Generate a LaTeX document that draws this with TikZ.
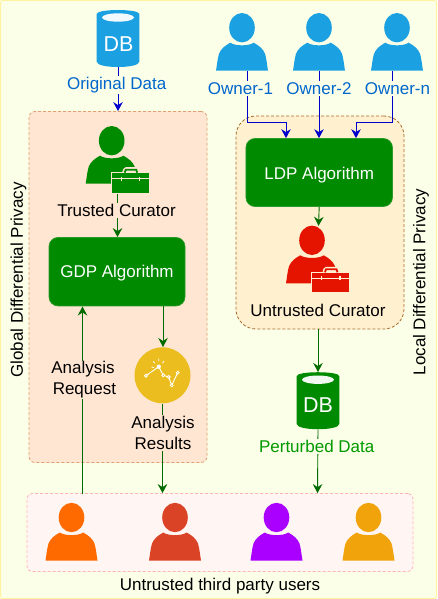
\documentclass[tikz,border=0pt]{standalone}
\usepackage{fontspec}
\setmainfont{Liberation Sans}
\usetikzlibrary{arrows.meta,calc}
\definecolor{pagebg}{HTML}{FCFFE8}
\definecolor{pageedge}{HTML}{FFF3A0}
\definecolor{gdpfill}{HTML}{FFE6D2}
\definecolor{gdpedge}{HTML}{DDA070}
\definecolor{ldpfill}{HTML}{FFF0D0}
\definecolor{ldpedge}{HTML}{A86C2C}
\definecolor{algo}{HTML}{008A00}
\definecolor{algoedge}{HTML}{2D9A2D}
\definecolor{skyb}{HTML}{1BA1E2}
\definecolor{linkblue}{HTML}{0000CC}
\definecolor{labelblue}{HTML}{0066CC}
\definecolor{labelgreen}{HTML}{009900}
\definecolor{linkgreen}{HTML}{006B00}
\definecolor{redc}{HTML}{E51400}
\definecolor{goldc}{HTML}{EBBD1F}
\definecolor{usersfill}{HTML}{FFF6F4}
\definecolor{usersedge}{HTML}{FFB3B3}
\definecolor{userA}{HTML}{FF6A00}
\definecolor{userB}{HTML}{DB4327}
\definecolor{userC}{HTML}{AA00FF}
\definecolor{userD}{HTML}{F0A30A}
\tikzset{
  x=1pt,y=-1pt,
  txt/.style={font=\fontsize{17}{21}\selectfont,align=center,inner sep=1pt},
  zonedash/.style={dash pattern=on 3pt off 2pt,line width=0.8pt},
  algobox/.style={draw=algoedge,fill=algo,rounded corners=9pt,line width=0.7pt,text=white,font=\fontsize{17}{20}\selectfont},
  conblue/.style={draw=linkblue,line width=0.9pt,-{Stealth[length=9pt,width=9.5pt,inset=3pt]}},
  congreen/.style={draw=linkgreen,line width=0.9pt,-{Stealth[length=9pt,width=9.5pt,inset=3pt]}},
  personbox/.style={minimum width=52pt,minimum height=43pt,inner sep=0pt,outer sep=0pt},
  pics/person/.style={code={
    \fill[#1] (0,-43) ellipse [x radius=12.8,y radius=14.7];
    \fill[#1] (-26,0) .. controls (-25,-6) and (-24.5,-12) .. (-23,-17)
      .. controls (-21,-22) and (-17,-25) .. (-11.7,-28)
      .. controls (-7,-24.5) and (7,-24.5) .. (11.7,-28)
      .. controls (17,-25) and (21,-22) .. (23,-17)
      .. controls (24.5,-12) and (25,-6) .. (26,0) -- cycle;
  }},
  pics/curator/.style 2 args={code={
    \pic at (0,0) {person=#1};
    \draw[#2,line width=2pt,fill=#1] (0,-10.7) -- (37.3,-10.7) -- (37.3,9) -- (0,9) -- cycle;
    \draw[#2,line width=5pt,line join=round] (13,-11) -- (14,-14) -- (24.5,-14) -- (25.5,-11);
    \draw[#1,line width=1.8pt] (13,-11) -- (14,-14) -- (24.5,-14) -- (25.5,-11);
    \fill[#1] (0,-10.7) rectangle (37.3,9);
    \draw[#2,line width=0.9pt] (0,-5) -- (37.3,-5);
    \draw[#2,line width=1.2pt] (9.5,-7) -- (9.5,-3) (28,-7) -- (28,-3);
  }},
  pics/dbcyl/.style={code={
    \fill[#1] (-21.3,4) .. controls (-21.3,-1.3) and (21.3,-1.3) .. (21.3,4) -- (21.3,51.7) .. controls (21.3,58.8) and (-21.3,58.8) .. (-21.3,51.7) -- cycle;
    \fill[white,opacity=0.95] (0,7.5) ellipse [x radius=16,y radius=4.2];
  }}
}
\begin{document}
\begin{tikzpicture}
\useasboundingbox (0,0) rectangle (437,599);
\draw[fill=pagebg,draw=pageedge,line width=1pt,rounded corners=2pt] (0.5,0.5) rectangle (436.5,598.5);

% containers
\node[draw=gdpedge,fill=gdpfill,zonedash,rounded corners=6pt,minimum width=178pt,minimum height=351pt,inner sep=0pt] (gdpzone) at (118,287) {};
\node[draw=ldpedge,fill=ldpfill,zonedash,rounded corners=20pt,minimum width=168pt,minimum height=213pt,inner sep=0pt] (ldpzone) at (320,222.5) {};
\node[draw=usersedge,fill=usersfill,zonedash,rounded corners=5pt,minimum width=386pt,minimum height=78pt,inner sep=0pt] (userzone) at (220,532.5) {};

% named anchors of icons
\node[personbox] (own1) at (242,49.5) {};
\node[personbox] (own2) at (319,49.5) {};
\node[personbox] (ownn) at (397,49.5) {};
\node[minimum width=42.6pt,minimum height=57pt,inner sep=0pt] (dbo) at (118,38.5) {};
\node[minimum width=42.6pt,minimum height=57pt,inner sep=0pt] (dbp) at (318,400.7) {};
\node[minimum width=38pt,minimum height=33pt,inner sep=0pt] (trusted) at (117.5,176.5) {};
\node[minimum width=38pt,minimum height=66pt,inner sep=0pt] (untrusted) at (318.5,259) {};
\node[fill=goldc,circle,minimum size=56pt,inner sep=0pt] (insight) at (162.5,375.3) {};

% algorithm boxes
\node[algobox,minimum width=136pt,minimum height=68.5pt,inner sep=0pt] (gdp) at (117,271.7) {\raisebox{-6pt}[0pt][0pt]{GDP Algorithm}};
\node[algobox,minimum width=146.5pt,minimum height=68pt,inner sep=0pt] (ldp) at (319.2,172.5) {\raisebox{-6.5pt}[0pt][0pt]{LDP Algorithm}};

% connectors
\draw[conblue] (dbo.south) -- (dbo.south |- gdpzone.north);
\draw[conblue] ([xshift=5pt]own1.south) |- (286,122) -- (286,122 |- ldp.north);
\draw[conblue] (own2.south) -- (own2.south |- ldp.north);
\draw[conblue] ([xshift=-4.7pt]ownn.south) |- (356,122) -- (356,122 |- ldp.north);
\draw[congreen] (trusted.south) -- (trusted.south |- gdp.north);
\draw[congreen] (163,306) -- (163,347);
\draw[congreen] (ldp.south) -- (untrusted.north);
\draw[congreen] (ldpzone.south -| dbp.north) -- (dbp.north);
\draw[congreen] (82.5,493.5) -- (82.5,306.5);
\draw[congreen] (insight.south) -- (insight.south |- userzone.north);
\draw[congreen] (dbp.south) -- ([xshift=-0.5pt]dbp.south |- userzone.north);

% icons
\pic at (242,70.7) {person=skyb};
\pic at (319,70.7) {person=skyb};
\pic at (397,70.7) {person=skyb};
\pic at (71.5,560.5) {person=userA};
\pic at (175,560.5) {person=userB};
\pic at (276.5,560.5) {person=userC};
\pic at (368.5,560.5) {person=userD};
\pic at (111.7,183.7) {curator={algo}{gdpfill}};
\pic at (312,283.3) {curator={redc}{ldpfill}};
\pic at (118,10) {dbcyl=skyb};
\pic at (318,372.2) {dbcyl=algo};
\node[text=white,font=\fontsize{21.5}{21.5}\selectfont,inner sep=0pt] (dbotext) at (118.5,44) {DB};
\node[text=white,font=\fontsize{21.5}{21.5}\selectfont,inner sep=0pt] (dbptext) at (318,405.5) {DB};

% insight icon
\draw[white,line width=0.9pt] (146,375.7) -- (158.7,366.7) -- (163.3,375.3) -- (168.7,377) -- (171.7,385.3) -- (177.7,372.7);
\fill[white] (158.7,366.7) circle (2.2);
\foreach \p in {(146,375.7),(163.3,375.3),(168.7,377),(171.7,385.3),(177.7,372.7)}
  \draw[white,fill=goldc,line width=0.8pt] \p circle (1.5);
\draw[white,line width=0.8pt] (151.5,367) -- (154,367.5) (153,361.5) -- (155,363) (158.7,358.5) -- (158.7,361) (164,361) -- (162.5,363);

% labels
\node[txt,text=labelblue,fill=pagebg] (lorig) at (116.7,85) {Original Data};
\node[txt,text=labelblue,fill=pagebg] (lo1) at (240.5,88.5) {Owner-1};
\node[txt,text=labelblue,fill=pagebg] (lo2) at (319,88.5) {Owner-2};
\node[txt,text=labelblue,fill=pagebg] (lon) at (397.5,88.5) {Owner-n};
\node[txt,fill=gdpfill] (ltr) at (116.5,210.5) {Trusted Curator};
\node[txt,fill=ldpfill] (lun) at (318,310.5) {Untrusted Curator};
\node[txt,fill=gdpfill] (lreq) at (83,380) {Analysis\\\,Request};
\node[txt,fill=gdpfill] (lres) at (163,433) {Analysis\\Results};
\node[txt,text=labelgreen,fill=pagebg] (lper) at (316.7,446.5) {Perturbed Data};
\node[txt] (lusers) at (220,586) {Untrusted third party users};
\node[txt,rotate=90] (lglobal) at (18.5,280) {Global Differential Privacy};
\node[txt,rotate=90] (llocal) at (421,282) {Local Differential Privacy};
\end{tikzpicture}
\end{document}
